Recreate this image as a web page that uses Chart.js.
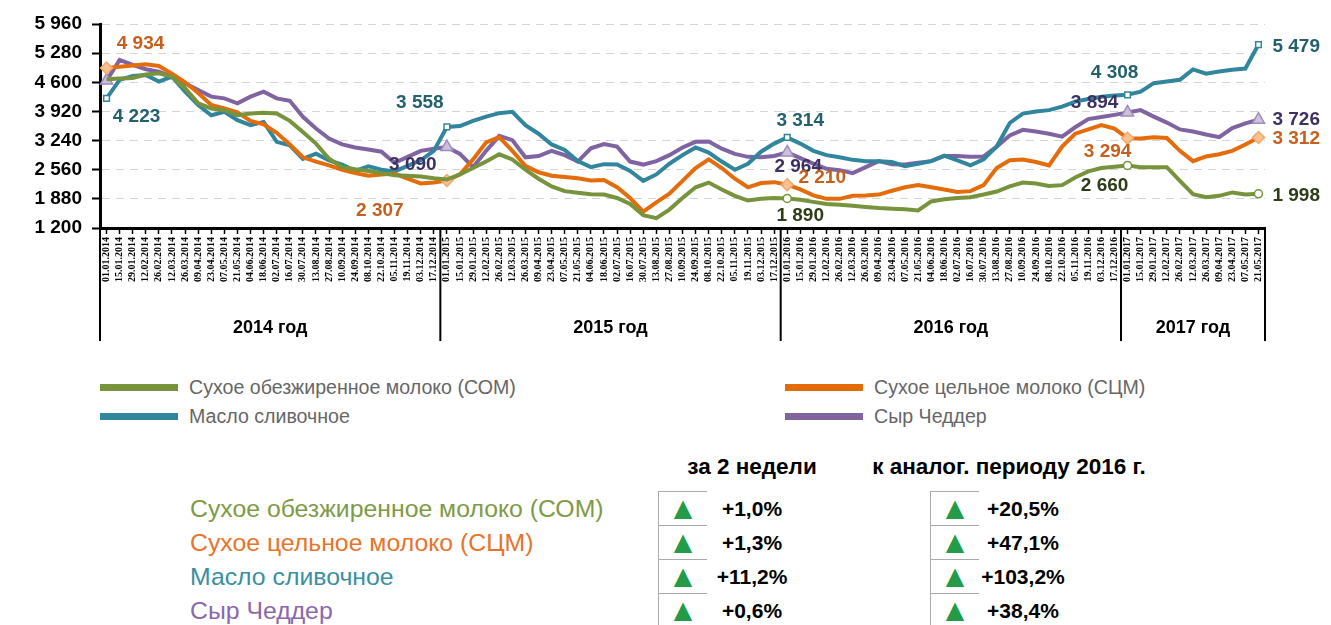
<!DOCTYPE html>
<html>
<head>
<meta charset="utf-8">
<title>Цены на молочную продукцию</title>
<script src="https://cdn.jsdelivr.net/npm/chart.js"></script>
<style>
	body { margin: 0; background: #fff; font-family: "Liberation Sans", Arial, sans-serif; }
	#wrap { position: relative; width: 1331px; height: 625px; overflow: hidden; }
	#canvas { position: absolute; left: 0; top: 0; }
	.leg { position: absolute; font-size: 19.6px; color: #666; line-height: 22px; white-space: nowrap; }
	.leg i { display: inline-block; width: 78px; height: 7px; vertical-align: middle; margin-right: 11px; position: relative; top: -1px; }
	.hdr { position: absolute; top: 455px; font-weight: bold; font-size: 22.5px; line-height: 24px; transform: translateX(-50%); white-space: nowrap; }
	.name { position: absolute; left: 190px; font-size: 24.8px; line-height: 34px; white-space: nowrap; }
	.cell { position: absolute; width: 48px; height: 33px; border-left: 1px solid #aaa; border-top: 1px solid #aaa; }
	.tri { position: absolute; color: #239b48; font-size: 24px; line-height: 34px; transform: translateX(-50%); font-family: "DejaVu Sans", sans-serif; }
	.val { position: absolute; font-weight: bold; font-size: 21px; line-height: 34px; transform: translateX(-50%); white-space: nowrap; }
</style>
</head>

<body>
<div id="wrap">
	<canvas id="canvas" width="1331" height="350"></canvas>

	<div class="leg" style="left:100px; top:376px"><i style="background:#77933c"></i>Сухое обезжиренное молоко (СОМ)</div>
	<div class="leg" style="left:785px; top:376px"><i style="background:#e36c09"></i>Сухое цельное молоко (СЦМ)</div>
	<div class="leg" style="left:100px; top:405px"><i style="background:#31859c"></i>Масло сливочное</div>
	<div class="leg" style="left:785px; top:405px"><i style="background:#8064a2"></i>Сыр Чеддер</div>

	<div class="hdr" style="left:752px">за 2 недели</div>
	<div class="hdr" style="left:1009px">к аналог. периоду 2016 г.</div>
	<div id="table"></div>
</div>

<script>
	// серии (двухнедельные значения, 2014 - 2017)
	const series = ['Сухое обезжиренное молоко (СОМ)', 'Сухое цельное молоко (СЦМ)', 'Масло сливочное', 'Сыр Чеддер']
	const colors = ['#77933c', '#e46c0a', '#31859c', '#8064a2']
	const nameColors = ['#7e9a45', '#e8732a', '#3a8fa3', '#8a68ab']
	const labelColors = ['#2e3d17', '#c4601c', '#22606e', '#3d3063']

	const som = [4670, 4690, 4700, 4780, 4810, 4730, 4460, 4110, 3990, 3950,
		3830, 3870, 3890, 3870, 3700, 3440, 3170, 2815, 2620, 2570,
		2530, 2480, 2430, 2420, 2400, 2360, 2330, 2450, 2600, 2750,
		2920, 2800, 2560, 2350, 2170, 2060, 2020, 1990, 1980, 1900,
		1760, 1500, 1430, 1630, 1900, 2150, 2260, 2100, 1950, 1840,
		1880, 1900, 1890, 1860, 1810, 1760, 1740, 1720, 1690, 1665,
		1650, 1640, 1610, 1820, 1870, 1900, 1920, 1980, 2050, 2170,
		2260, 2240, 2180, 2200, 2380, 2520, 2600, 2630, 2660, 2620,
		2620, 2620, 2300, 1990, 1920, 1950, 2030, 1980, 1998]
	const scm = [4934, 4960, 4990, 5020, 4980, 4800, 4600, 4350, 4070, 3990,
		3900, 3700, 3620, 3420, 3150, 2850, 2750, 2660, 2560, 2480,
		2420, 2450, 2470, 2350, 2240, 2260, 2307, 2450, 2800, 3200,
		3320, 3000, 2650, 2500, 2420, 2390, 2360, 2310, 2320, 2150,
		1900, 1580, 1800, 2000, 2300, 2600, 2800, 2600, 2350, 2150,
		2250, 2270, 2210, 2100, 1960, 1880, 1880, 1950, 1960, 1980,
		2070, 2150, 2200, 2150, 2100, 2040, 2060, 2200, 2600, 2780,
		2800, 2740, 2660, 3100, 3400, 3500, 3600, 3520, 3294, 3290,
		3320, 3300, 3000, 2760, 2870, 2920, 3000, 3150, 3312]
	const butter = [4223, 4655, 4750, 4770, 4615, 4730, 4380, 4070, 3830, 3910,
		3715, 3600, 3675, 3210, 3130, 2815, 2935, 2780, 2680, 2530,
		2640, 2560, 2520, 2650, 2780, 3000, 3558, 3580, 3700, 3800,
		3880, 3910, 3600, 3400, 3150, 3020, 2760, 2620, 2690, 2680,
		2530, 2300, 2450, 2700, 2900, 3080, 2960, 2750, 2560, 2700,
		2980, 3170, 3314, 3170, 3000, 2900, 2850, 2790, 2760, 2760,
		2740, 2640, 2700, 2760, 2890, 2780, 2660, 2800, 3100, 3650,
		3870, 3920, 3950, 4030, 4150, 4210, 4260, 4290, 4308, 4380,
		4580, 4620, 4660, 4900, 4800, 4850, 4890, 4920, 5479]
	const cheddar = [4640, 5120, 5005, 4905, 4850, 4730, 4575, 4420, 4265, 4225,
		4110, 4265, 4380, 4225, 4170, 3795, 3520, 3285, 3150, 3080,
		3030, 2980, 2720, 2860, 3000, 3050, 3090, 2930, 2620, 3000,
		3350, 3250, 2850, 2880, 3000, 2900, 2750, 3060, 3160, 3100,
		2750, 2680, 2760, 2900, 3080, 3210, 3220, 3050, 2930, 2860,
		2850, 2880, 2964, 2830, 2700, 2580, 2550, 2480, 2620, 2760,
		2690, 2680, 2720, 2760, 2880, 2880, 2860, 2870, 3100, 3360,
		3490, 3450, 3400, 3330, 3550, 3740, 3790, 3840, 3894, 3950,
		3800, 3660, 3500, 3450, 3380, 3320, 3530, 3640, 3726]

	// подписи оси X
	const periods = ['01.01', '15.01', '29.01', '12.02', '26.02', '12.03', '26.03', '09.04', '23.04', '07.05',
		'21.05', '04.06', '18.06', '02.07', '16.07', '30.07', '13.08', '27.08', '10.09', '24.09',
		'08.10', '22.10', '05.11', '19.11', '03.12', '17.12']
	const years = ['2014 год', '2015 год', '2016 год', '2017 год']
	const yearFull = ['2014', '2015', '2016', '2017']
	const yearCount = [26, 26, 26, 11]
	const yTicks = [1200, 1880, 2560, 3240, 3920, 4600, 5280, 5960]

	// отмеченные точки для каждой серии
	const markers = [[52, 78, 88], [0, 26, 52, 78, 88], [0, 26, 52, 78, 88], [0, 26, 52, 78, 88]]

	// таблица изменений
	const twoWeeks = ['+1,0%', '+1,3%', '+11,2%', '+0,6%']
	const yearAgo = ['+20,5%', '+47,1%', '+103,2%', '+38,4%']

	let labels = []
	yearFull.forEach((y, k) => {
		for (let i = 0; i < yearCount[k]; i++) labels.push(periods[i] + '.' + y)
	})

	const fmt = v => String(v).replace(/\B(?=(\d{3})+(?!\d))/g, ' ')
	const labelFont = 'bold 19px "Liberation Sans", Arial, sans-serif'

	// [серия, индекс, dx, dy, выравнивание]
	const valueLabels = [
		[1, 0, 34, -24, 'center'], [2, 0, 30, 18, 'center'],
		[2, 26, -27, -24, 'center'], [3, 26, -34, 18, 'center'], [1, 26, -67, 30, 'center'],
		[2, 52, 13, -17, 'center'], [3, 52, 11, 14, 'center'], [1, 52, 35, -7, 'center'], [0, 52, 13, 17, 'center'],
		[2, 78, -13, -22, 'center'], [3, 78, -33, -10, 'center'], [1, 78, -20, 14, 'center'], [0, 78, -23, 20, 'center'],
		[2, 88, 14, 2, 'left'], [3, 88, 14, 0, 'left'], [1, 88, 14, 1, 'left'], [0, 88, 14, 2, 'left']
	]

	const valuePlugin = {
		id: 'values',
		afterDatasetsDraw(chart) {
			const ctx = chart.ctx
			ctx.save()
			ctx.font = labelFont
			ctx.textBaseline = 'middle'
			valueLabels.forEach(([ds, i, dx, dy, align]) => {
				const pt = chart.getDatasetMeta(ds).data[i]
				ctx.fillStyle = labelColors[ds]
				ctx.textAlign = align
				ctx.fillText(fmt(chart.data.datasets[ds].data[i]), pt.x + dx, pt.y + dy)
			})
			ctx.restore()
		}
	}

	const yearPlugin = {
		id: 'years',
		afterDraw(chart) {
			const ctx = chart.ctx
			const x = chart.scales.x
			const area = chart.chartArea
			const half = (x.getPixelForValue(1) - x.getPixelForValue(0)) / 2
			let bounds = [area.left]
			let start = 0
			yearCount.forEach(n => {
				start += n
				bounds.push(start >= labels.length ? area.right : x.getPixelForValue(start) - half)
			})
			ctx.save()
			ctx.strokeStyle = '#000'
			ctx.lineWidth = 2
			bounds.forEach(b => {
				ctx.beginPath()
				ctx.moveTo(b, area.bottom)
				ctx.lineTo(b, 341)
				ctx.stroke()
			})
			ctx.fillStyle = '#000'
			ctx.font = 'bold 18px "Liberation Sans", Arial, sans-serif'
			ctx.textAlign = 'center'
			ctx.textBaseline = 'middle'
			years.forEach((y, k) => ctx.fillText(y, (bounds[k] + bounds[k + 1]) / 2, 328))
			ctx.restore()
		}
	}

	const pointStyles = ['circle', 'rectRot', 'rect', 'triangle']
	const pointFills = ['#ffffff', '#fac090', '#ffffff', '#ccc1da']
	const pointRadii = [4, 6, 4, 7]
	const data = [som, scm, butter, cheddar]

	const ctx = document.querySelector('#canvas').getContext('2d')
	const chart = new Chart(ctx, {
		type: 'line',
		data: {
			labels: labels,
			datasets: data.map((d, k) => ({
				label: series[k],
				data: d,
				borderColor: colors[k],
				borderWidth: 4,
				tension: 0,
				pointStyle: pointStyles[k],
				pointRadius: c => markers[k].includes(c.dataIndex) ? pointRadii[k] : 0,
				pointBackgroundColor: pointFills[k],
				pointBorderColor: k === 1 ? '#f4a66a' : (k === 3 ? '#9f8bc0' : colors[k]),
				pointBorderWidth: 1.5
			}))
		},
		options: {
			responsive: false,
			animation: false,
			layout: { padding: { top: 24, right: 66, left: 0, bottom: 0 } },
			plugins: { legend: { display: false }, tooltip: { enabled: false } },
			scales: {
				x: {
					offset: true,
					grid: { drawOnChartArea: false, tickLength: 6, tickColor: '#000', tickWidth: 1.5 },
					border: { color: '#000', width: 3 },
					ticks: {
						autoSkip: false, minRotation: 90, maxRotation: 90, padding: 3, color: '#000',
						font: { family: 'Liberation Sans Narrow', size: 10, weight: 'bold' }
					},
					afterFit: s => { s.height = 122 }
				},
				y: {
					min: 1200,
					max: 5960,
					afterBuildTicks: s => { s.ticks = yTicks.map(v => ({ value: v })) },
					grid: { color: '#d4d4d4', tickColor: '#000', tickLength: 8, tickWidth: 2, tickBorderDash: [] },
					border: { color: '#000', width: 3, dash: [8, 6] },
					ticks: {
						padding: 10, color: '#000',
						font: { family: 'Liberation Sans', size: 19, weight: 'bold' },
						callback: v => fmt(v)
					},
					afterFit: s => { s.width = 100 }
				}
			}
		},
		plugins: [valuePlugin, yearPlugin]
	});

	// таблица
	const table = document.querySelector('#table')
	series.forEach((name, r) => {
		const c = 509 + 34 * r
		let html = `<div class="name" style="top:${c - 17}px;color:${nameColors[r]}">${name}</div>`
		;[[658, 683, 752, twoWeeks[r]], [930, 955, 1023, yearAgo[r]]].forEach(([cx, tx, vx, v]) => {
			html += `<div class="cell" style="left:${cx}px;top:${c - 18}px"></div>`
			html += `<div class="tri" style="left:${tx}px;top:${c - 18}px">▲</div>`
			html += `<div class="val" style="left:${vx}px;top:${c - 17}px">${v}</div>`
		})
		table.insertAdjacentHTML('beforeend', html)
	})
</script>
</body>
</html>
